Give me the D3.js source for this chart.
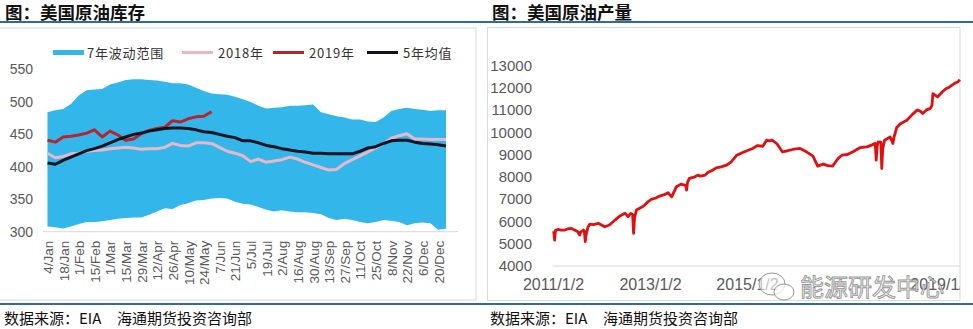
<!DOCTYPE html>
<html>
<head>
<meta charset="utf-8">
<script src="https://cdn.jsdelivr.net/npm/d3@7"></script>
<style>
  body { margin: 0; background: #fff; }
  svg { display: block; font-family: "Liberation Sans", Arial, "Noto Sans CJK SC", sans-serif; }
</style>
</head>
<body>
<svg id="chart" width="973" height="329"></svg>
<script>
// ---------------- Left chart data: US crude stocks ----------------
const weeks = ["4/Jan","11/Jan","18/Jan","25/Jan","1/Feb","8/Feb","15/Feb","22/Feb","1/Mar","8/Mar",
  "15/Mar","22/Mar","29/Mar","5/Apr","12/Apr","19/Apr","26/Apr","3/May","10/May","17/May",
  "24/May","31/May","7/Jun","14/Jun","21/Jun","28/Jun","5/Jul","12/Jul","19/Jul","26/Jul",
  "2/Aug","9/Aug","16/Aug","23/Aug","30/Aug","6/Sep","13/Sep","20/Sep","27/Sep","4/Oct",
  "11/Oct","18/Oct","25/Oct","1/Nov","8/Nov","15/Nov","22/Nov","29/Nov","6/Dec","13/Dec",
  "20/Dec","27/Dec"];
const range7Upper = [484,487,489,497,510,518,519,520,527,530,534,535,535,534,533,531,529,529,527,522,
  517,513,512,511,508,504,500,494,490,491,492,494,494,495,496,484,481,478,476,473,
  473,470,469,476,486,489,491,489,488,486,487,487];
const range7Lower = [308,307,305,308,312,315,315,316,318,320,321,322,322,326,331,336,335,341,344,348,
  349,351,352,351,346,343,342,338,334,331,333,331,330,330,329,327,321,318,320,318,
  315,313,315,318,317,315,310,313,314,313,303,305];
const stock2018 = [421,414,416,420,421,424,425,426,428,429,430,429,427,428,428,430,436,433,432,437,
  437,436,430,424,421,417,408,412,407,409,411,415,412,407,403,399,395,396,405,411,
  417,423,429,436,444,448,451,443,443,442,442,442];
const stock2019 = [441,438,446,447,449,452,457,446,455,449,441,443,451,456,459,461,471,469,474,477,478,485];
const avg5y = [406,404,410,415,420,425,428,432,437,442,446,450,452,455,457,459,460,460,459,457,
  454,453,450,447,445,440,440,437,433,431,428,426,424,423,421,421,420,420,420,420,
  424,429,431,436,440,441,441,438,436,435,434,432];
const stockTicks = [300,350,400,450,500,550];

// ---------------- Right chart data: US crude production ----------------
const prodDates = ["2011-01-07","2011-01-14","2011-01-21","2011-02-11","2011-03-04","2011-04-01","2011-04-22","2011-05-20",
  "2011-06-10","2011-07-08","2011-07-22","2011-07-29","2011-08-19","2011-08-26","2011-09-02","2011-09-09","2011-09-23",
  "2011-10-07","2011-11-04","2011-12-09","2012-01-06","2012-01-27","2012-03-02","2012-04-13","2012-05-11","2012-06-01",
  "2012-06-29","2012-07-20","2012-08-10","2012-08-24","2012-08-31","2012-09-07","2012-09-21","2012-10-26","2012-11-23",
  "2012-12-21","2013-01-11","2013-02-15","2013-03-15","2013-04-19","2013-05-17","2013-06-14","2013-07-19","2013-08-23",
  "2013-09-27","2013-10-04","2013-10-11","2013-10-25","2013-12-06","2013-12-27","2014-01-17","2014-02-21","2014-03-14",
  "2014-04-11","2014-05-16","2014-06-20","2014-08-01","2014-09-05","2014-10-17","2014-12-05","2015-01-16","2015-02-13",
  "2015-03-20","2015-05-01","2015-05-29","2015-06-19","2015-07-10","2015-08-14","2015-09-25","2015-10-23","2015-12-11",
  "2016-02-05","2016-03-25","2016-05-13","2016-06-17","2016-07-29","2016-09-02","2016-10-07","2016-11-18","2016-12-16",
  "2017-01-27","2017-03-10","2017-05-05","2017-06-23","2017-07-28","2017-08-25","2017-09-01","2017-09-08","2017-09-15",
  "2017-10-06","2017-10-13","2017-10-20","2017-11-03","2017-12-15","2018-01-05","2018-01-12","2018-02-02","2018-03-02",
  "2018-04-20","2018-06-01","2018-07-06","2018-07-27","2018-08-17","2018-09-14","2018-10-12","2018-10-26","2018-11-02",
  "2018-12-07","2019-01-11","2019-02-08","2019-03-08","2019-04-12","2019-05-10","2019-05-24"];
const prodValues = [5560,5164,5600,5640,5610,5612,5660,5688,
  5620,5536,5388,5520,5612,5560,5090,5420,5750,
  5880,5860,5912,5830,5760,5836,6060,6200,6284,
  6360,6210,6360,6300,5464,6150,6508,6620,6732,
  6900,6986,7050,7135,7200,7283,7100,7550,7670,
  7620,7400,7750,7930,8000,8075,8030,8075,8200,
  8270,8400,8447,8520,8670,8970,9100,9200,9270,
  9400,9370,9640,9610,9640,9490,9120,9150,9225,
  9270,9120,8925,8480,8570,8500,8480,8820,8970,
  9000,9120,9310,9340,9420,9500,8750,9350,9570,
  9550,8370,9250,9640,9790,9490,9750,10210,10380,
  10540,10800,10990,10960,10840,11000,11060,11200,11730,
  11580,11800,11950,12030,12180,12260,12360];
const prodTicks = [4000,5000,6000,7000,8000,9000,10000,11000,12000,13000];
// the 2017 label is hidden under the watermark in the reference
const prodDateTicks = ["2011-01-02","2013-01-02","2015-01-02","2019-01-02"];

// ---------------- Texts ----------------
const titles = ["图：美国原油库存", "图：美国原油产量"];
const sourceA = "数据来源：EIA";
const sourceB = "海通期货投资咨询部";
const legendLabels = ["7年波动范围", "2018年", "2019年", "5年均值"];
const watermark = "能源研发中心";

const colors = { range: "#33B6E9", y2018: "#E9B8C8", y2019: "#B8242E", avg: "#0B1420", prod: "#E01010",
  axisText: "#595959", grid: "#D9D9D9", rule: "#2F6C9A" };

const svg = d3.select("#chart");

// rules
svg.append("line").attr("x1", 0).attr("x2", 973).attr("y1", 22).attr("y2", 22)
  .attr("stroke", colors.rule).attr("stroke-width", 2);
svg.append("line").attr("x1", 0).attr("x2", 973).attr("y1", 304).attr("y2", 304)
  .attr("stroke", colors.rule).attr("stroke-width", 2);

// titles
[[5, titles[0]], [492, titles[1]]].forEach(([x, t]) => {
  svg.append("text").attr("x", x).attr("y", 19).text(t)
    .attr("font-family", "Noto Sans CJK SC").attr("font-weight", "bold")
    .attr("font-size", 17.5).attr("fill", "#111");
});
// footers
[[4, 117], [490, 603]].forEach(([xa, xb]) => {
  svg.append("text").attr("x", xa).attr("y", 324).text(sourceA)
    .attr("font-family", "Noto Sans CJK SC").attr("font-size", 15).attr("fill", "#111");
  svg.append("text").attr("x", xb).attr("y", 324).text(sourceB)
    .attr("font-family", "Noto Sans CJK SC").attr("font-size", 15).attr("fill", "#111");
});

// boxes
svg.append("rect").attr("x", -1).attr("y", 28).attr("width", 477).attr("height", 272)
  .attr("fill", "none").attr("stroke", colors.grid);
svg.append("rect").attr("x", 487.5).attr("y", 27.5).attr("width", 472.5).attr("height", 273)
  .attr("fill", "none").attr("stroke", colors.grid);

// ================= Left chart =================
const x1 = d3.scalePoint().domain(weeks).range([47.5, 446]);
const y1 = d3.scaleLinear().domain([300, 550]).range([231.7, 69.5]);

const L = svg.append("g");
const area = d3.area()
  .x((d, i) => x1(weeks[i]))
  .y0((d, i) => y1(range7Lower[i]))
  .y1((d, i) => y1(range7Upper[i]));
L.append("path").datum(range7Upper).attr("d", area).attr("fill", colors.range);

const lineFor = arr => d3.line().x((d, i) => x1(weeks[i])).y(d => y1(d))(arr);
L.append("path").attr("d", lineFor(stock2018)).attr("fill", "none").attr("stroke", colors.y2018)
  .attr("stroke-width", 3).attr("stroke-linejoin", "round");
L.append("path").attr("d", lineFor(stock2019)).attr("fill", "none").attr("stroke", colors.y2019)
  .attr("stroke-width", 3).attr("stroke-linejoin", "round");
L.append("path").attr("d", lineFor(avg5y)).attr("fill", "none").attr("stroke", colors.avg)
  .attr("stroke-width", 3).attr("stroke-linejoin", "round");

// axis line
L.append("line").attr("x1", x1(weeks[0]) - 4.5).attr("x2", x1(weeks[weeks.length - 1]) + 12)
  .attr("y1", y1(300)).attr("y2", y1(300)).attr("stroke", colors.grid).attr("stroke-width", 1);

// y axis
const yAxL = L.append("g").attr("transform", "translate(33,0)")
  .call(d3.axisLeft(y1).tickValues(stockTicks).tickSize(0).tickPadding(0));
yAxL.select(".domain").remove();
yAxL.selectAll("text").attr("font-size", 14).attr("fill", colors.axisText)
  .attr("font-family", "Liberation Sans, Arial");

// x axis
const xAxL = L.append("g").attr("transform", `translate(0,${y1(300)})`)
  .call(d3.axisBottom(x1).tickValues(weeks.filter((d, i) => i % 2 === 0)).tickSize(0));
xAxL.select(".domain").remove();
xAxL.selectAll("text")
  .attr("transform", "rotate(-90)")
  .attr("x", -9).attr("y", 0).attr("dy", "0.36em")
  .style("text-anchor", "end")
  .attr("font-size", 13.5).attr("fill", colors.axisText)
  .attr("font-family", "Liberation Sans, Arial");

// legend
const lg = L.append("g").attr("font-family", "Noto Sans CJK SC").attr("font-size", 13)
  .attr("fill", "#333").attr("letter-spacing", 0.8);
const legendItems = [
  { sx: 53, tx: 87, color: colors.range, w: 5 },
  { sx: 182, tx: 218, color: colors.y2018, w: 3 },
  { sx: 273, tx: 309, color: colors.y2019, w: 3 },
  { sx: 367, tx: 403, color: colors.avg, w: 3 }
];
legendItems.forEach((it, i) => {
  lg.append("line").attr("x1", it.sx).attr("x2", it.sx + 31).attr("y1", 52.5).attr("y2", 52.5)
    .attr("stroke", it.color).attr("stroke-width", it.w);
  lg.append("text").attr("x", it.tx).attr("y", 57.5).text(legendLabels[i]);
});

// ================= Right chart =================
const parse = d3.timeParse("%Y-%m-%d");
const pd = prodDates.map(parse);
const x2 = d3.scaleTime().domain([parse("2011-01-02"), parse("2019-01-02")]).range([553, 941]);
const y2 = d3.scaleLinear().domain([4000, 13000]).range([266, 65.3]);

const R = svg.append("g");
svg.append("clipPath").attr("id", "rclip").append("rect")
  .attr("x", 487).attr("y", 27).attr("width", 473).attr("height", 274);

R.append("line").attr("x1", x2(parse("2011-01-02"))).attr("x2", x2(pd[pd.length - 1]))
  .attr("y1", y2(4000)).attr("y2", y2(4000)).attr("stroke", colors.grid);

const yAxR = R.append("g").attr("transform", "translate(532,0)")
  .call(d3.axisLeft(y2).tickValues(prodTicks).tickFormat(d3.format("d")).tickSize(0).tickPadding(0));
yAxR.select(".domain").remove();
yAxR.selectAll("text").attr("font-size", 15).attr("fill", colors.axisText)
  .attr("font-family", "Liberation Sans, Arial");

const xAxR = R.append("g").attr("clip-path", "url(#rclip)")
  .append("g").attr("transform", `translate(0,${y2(4000)})`)
  .call(d3.axisBottom(x2).tickValues(prodDateTicks.map(parse)).tickFormat(d3.timeFormat("%Y/%-m/%-d")).tickSize(0));
xAxR.select(".domain").remove();
xAxR.selectAll("text").attr("y", 13).attr("font-size", 16).attr("fill", colors.axisText)
  .attr("font-family", "Liberation Sans, Arial");

R.append("path").datum(prodValues)
  .attr("d", d3.line().x((d, i) => x2(pd[i])).y(d => y2(d)))
  .attr("fill", "none").attr("stroke", colors.prod).attr("stroke-width", 2.8)
  .attr("stroke-linejoin", "round");

// watermark (WeChat overlay)
const wm = svg.append("g").attr("opacity", 0.9);
wm.append("ellipse").attr("cx", 772).attr("cy", 284).attr("rx", 13).attr("ry", 11)
  .attr("fill", "rgba(255,255,255,0.7)").attr("stroke", "#8c8c8c").attr("stroke-width", 1);
wm.append("ellipse").attr("cx", 784).attr("cy", 292).attr("rx", 10).attr("ry", 8)
  .attr("fill", "rgba(255,255,255,0.7)").attr("stroke", "#8c8c8c").attr("stroke-width", 1);
wm.append("text").attr("x", 800).attr("y", 296).text(watermark)
  .attr("font-family", "Noto Sans CJK SC").attr("font-size", 24)
  .attr("fill", "rgba(255,255,255,0.75)").attr("stroke", "#8a8a8a").attr("stroke-width", 0.9);
</script>
</body>
</html>
